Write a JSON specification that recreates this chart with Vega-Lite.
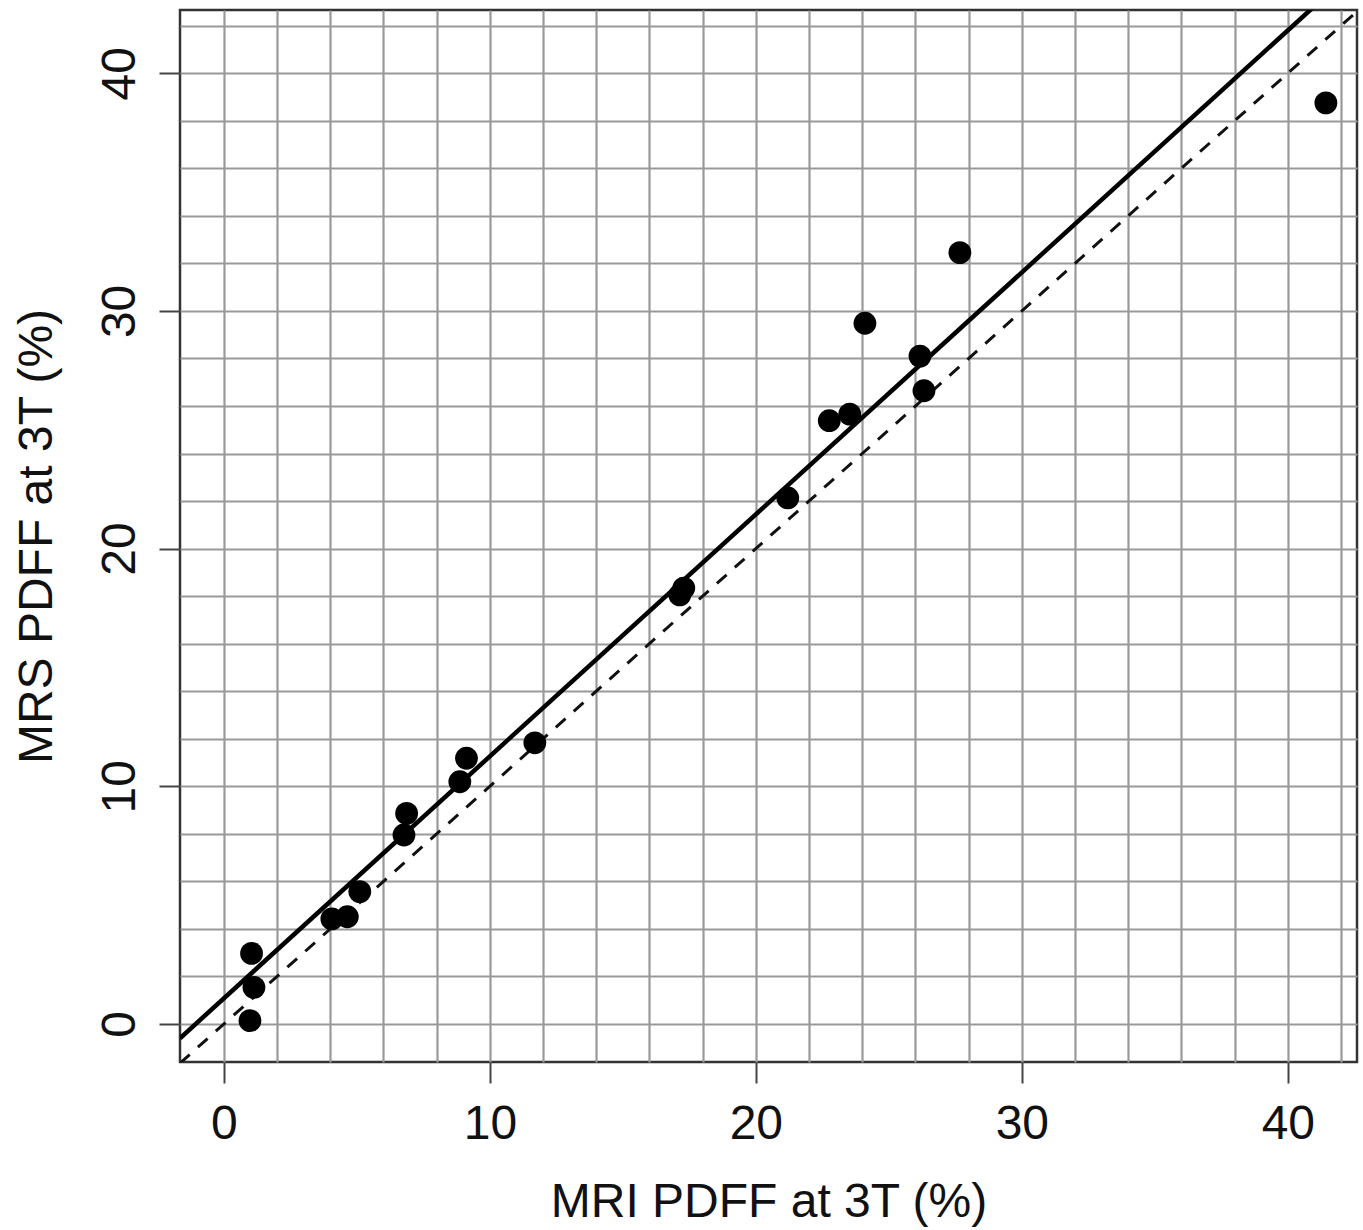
{
  "$schema": "https://vega.github.io/schema/vega-lite/v6.json",
  "autosize": {"type": "none"},
  "padding": {"left": 180, "top": 10, "right": 6, "bottom": 168},
  "width": 1177,
  "height": 1052,
  "background": "white",
  "config": {
    "view": {"stroke": "#333333", "strokeWidth": 2.5},
    "font": "Liberation Sans",
    "axis": {
      "labelFont": "Liberation Sans",
      "titleFont": "Liberation Sans",
      "labelFontSize": 48,
      "titleFontSize": 48,
      "titleFontWeight": "normal",
      "labelColor": "#111111",
      "titleColor": "#111111",
      "domain": false,
      "gridColor": "#999999",
      "gridWidth": 2.2,
      "gridOpacity": 1,
      "tickColor": "#444444",
      "tickWidth": 2,
      "tickSize": 21,
      "labelOverlap": false,
      "labelFlush": false,
      "labelBound": false
    }
  },
  "datasets": {
    "pts": [
      {"mri": 0.98, "mrs": 0.14},
      {"mri": 1.04, "mrs": 2.97},
      {"mri": 1.13, "mrs": 1.54},
      {"mri": 4.06, "mrs": 4.42},
      {"mri": 4.64, "mrs": 4.51},
      {"mri": 5.11, "mrs": 5.57},
      {"mri": 6.77, "mrs": 7.95},
      {"mri": 6.87, "mrs": 8.86},
      {"mri": 8.87, "mrs": 10.19},
      {"mri": 9.12, "mrs": 11.18},
      {"mri": 11.69, "mrs": 11.83},
      {"mri": 17.14, "mrs": 18.05},
      {"mri": 17.29, "mrs": 18.34},
      {"mri": 21.2, "mrs": 22.13},
      {"mri": 22.76, "mrs": 25.38},
      {"mri": 23.53, "mrs": 25.66},
      {"mri": 24.1, "mrs": 29.48},
      {"mri": 26.17, "mrs": 28.1},
      {"mri": 26.32, "mrs": 26.64},
      {"mri": 27.67, "mrs": 32.45},
      {"mri": 41.43, "mrs": 38.75}
    ],
    "fit": [
      {"mri": -1.65, "mrs": -0.6},
      {"mri": 42.6, "mrs": 44.45}
    ],
    "identity": [
      {"mri": -1.65, "mrs": -1.65},
      {"mri": 42.6, "mrs": 42.6}
    ]
  },
  "encoding": {
    "x": {
      "field": "mri",
      "type": "quantitative",
      "scale": {"domain": [-1.65, 42.6], "nice": false, "zero": false},
      "axis": {
        "title": "MRI PDFF at 3T (%)",
        "values": [0, 2, 4, 6, 8, 10, 12, 14, 16, 18, 20, 22, 24, 26, 28, 30, 32, 34, 36, 38, 40, 42],
        "labelExpr": "datum.value % 10 === 0 ? datum.label : ''",
        "tickOpacity": {"condition": {"test": "datum.value % 10 === 0", "value": 1}, "value": 0},
        "labelPadding": 17,
        "titlePadding": 30
      }
    },
    "y": {
      "field": "mrs",
      "type": "quantitative",
      "scale": {"domain": [-1.6, 42.66], "nice": false, "zero": false},
      "axis": {
        "title": "MRS PDFF at 3T (%)",
        "values": [0, 2, 4, 6, 8, 10, 12, 14, 16, 18, 20, 22, 24, 26, 28, 30, 32, 34, 36, 38, 40, 42],
        "labelExpr": "datum.value % 10 === 0 ? datum.label : ''",
        "tickOpacity": {"condition": {"test": "datum.value % 10 === 0", "value": 1}, "value": 0},
        "labelAngle": -90,
        "labelAlign": "center",
        "labelBaseline": "alphabetic",
        "labelPadding": 25,
        "titlePadding": 35
      }
    }
  },
  "layer": [
    {
      "data": {"name": "identity"},
      "mark": {"type": "line", "color": "#111111", "strokeWidth": 3, "strokeDash": [13, 11], "clip": true}
    },
    {
      "data": {"name": "fit"},
      "mark": {"type": "line", "color": "#000000", "strokeWidth": 4.5, "clip": true}
    },
    {
      "data": {"name": "pts"},
      "mark": {"type": "point", "filled": true, "shape": "circle", "color": "#000000", "opacity": 1, "size": 520}
    }
  ]
}
